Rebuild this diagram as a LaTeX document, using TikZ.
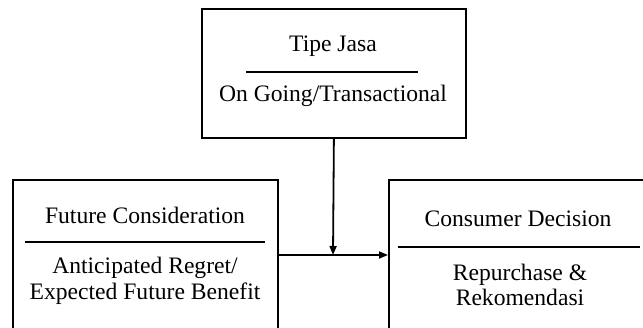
\documentclass[tikz,border=0pt]{standalone}
\usepackage{fontspec}
\setmainfont{Liberation Serif}
\usetikzlibrary{arrows.meta}
\begin{document}
\begin{tikzpicture}[x=1pt,y=-1pt,
  box/.style={draw, line width=1.8pt, anchor=north west, inner sep=0pt},
  lbl/.style={font=\fontsize{23.6}{25.5}\selectfont, align=center, inner sep=0pt},
  divider/.style={line width=1.6pt},
  conn/.style={line width=1.8pt, -{Triangle[length=9pt,width=7pt]}}]
\useasboundingbox (0,0) rectangle (643,328);
% boxes
\node[box, minimum width=264pt, minimum height=129pt] (tipe) at (201,8) {};
\node[box, minimum width=265pt, minimum height=175pt] (future) at (12,179) {};
\node[box, minimum width=275pt, minimum height=175pt] (consumer) at (388,179) {};
% top box texts
\node[lbl] (tipeA) at (333,46) {Tipe Jasa};
\draw[divider] (246,72) -- (418,72);
\node[lbl] (tipeB) at (333,96) {On Going/Transactional};
% left box texts
\node[lbl] (futA) at (145,215) {Future Consideration};
\draw[divider] (25,242) -- (265,242);
\node[lbl] (futB) at (145,281) {Anticipated Regret/\\Expected Future Benefit};
% right box texts
\node[lbl] (conA) at (518,219) {Consumer Decision};
\draw[divider] (398,247) -- (640,247);
\node[lbl] (conB) at (520,285) {Repurchase \&\\Rekomendasi};
% connectors
\coordinate (junc) at (333,255);
\draw[conn] (tipe.south) -- (junc);
\draw[conn] (future.east |- junc) -- (consumer.west |- junc);
\end{tikzpicture}
\end{document}
